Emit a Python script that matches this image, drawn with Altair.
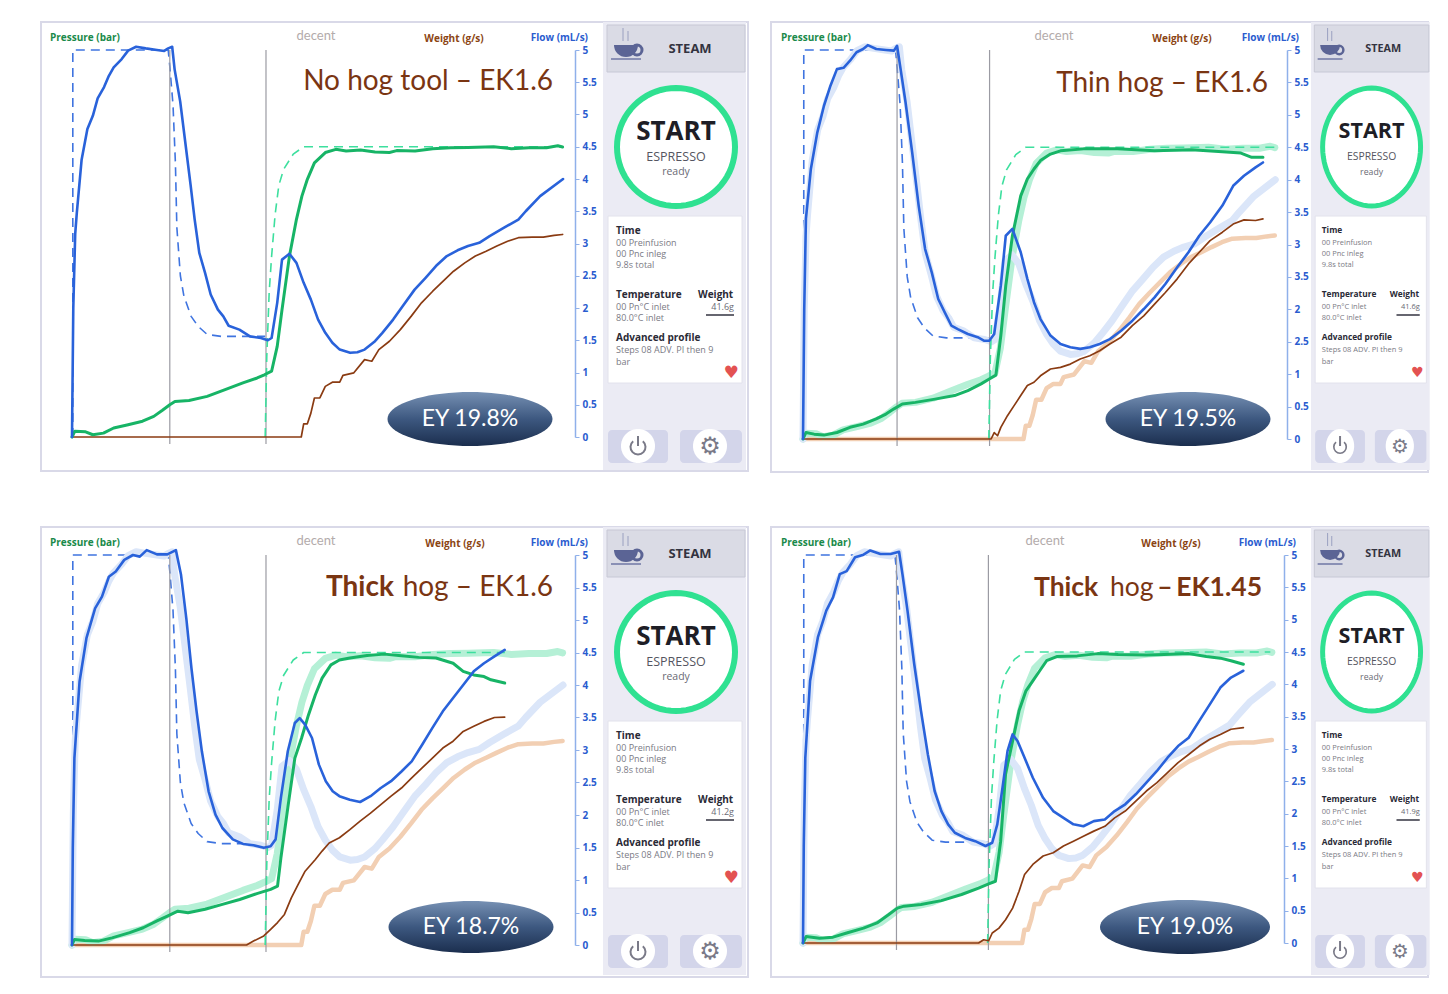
import math
import altair as alt
import pandas as pd

# ------------------------------------------------------------------
# Data.  Every curve is (time in s, value read
# against the left-hand pressure axis; the flow axis is half of it).
# ------------------------------------------------------------------
P1_FLOW = [(0,0),(0.08,4),(0.2,6.3),(0.3,6.95),(0.6,8.6),(0.96,9.55),(1.3,9.96),(1.6,10.5),(2.0,10.85),(2.3,11.2),(2.6,11.46),(3.1,11.72),(3.5,11.98),(4.0,12.1),(4.6,12.05),(5.3,12.0),(5.75,11.97),(6.0,12.05),(6.25,12.1),(6.4,11.4),(6.75,10.4),(7.1,9.0),(7.4,7.8),(7.65,6.75),(7.94,5.71),(8.3,5.09),(8.65,4.42),(9.1,3.95),(9.44,3.74),(9.77,3.45),(10.44,3.33),(11.1,3.12),(11.78,3.07),(12.22,3.0),(12.45,3.07),(12.8,4.16),(13.1,5.5),(13.56,5.68),(14.0,5.4),(14.45,4.78),(14.9,4.26),(15.35,3.64),(15.8,3.23),(16.24,2.92),(16.7,2.71),(17.35,2.61),(17.8,2.63),(18.25,2.71),(18.9,2.97),(19.36,3.23),(20.03,3.64),(20.7,4.11),(21.37,4.57),(22.04,4.93),(22.7,5.3),(23.38,5.61),(24.05,5.79),(24.7,5.92),(25.4,6.02),(26.05,6.23),(26.95,6.49),(27.84,6.74),(28.3,7.0),(29.2,7.47),(30.63,8.0)]
P1_PRESSURE = [(0,0),(0.18,0.18),(0.85,0.16),(1.3,0.07),(1.96,0.12),(2.6,0.28),(3.5,0.38),(4.4,0.49),(5.1,0.64),(5.64,0.83),(6.1,1.0),(6.42,1.1),(7.3,1.13),(8.43,1.26),(9.55,1.47),(10.66,1.68),(11.55,1.83),(12.0,1.93),(12.45,2.04),(12.8,2.81),(13.1,3.95),(13.56,5.6),(14.0,6.75),(14.34,7.47),(14.68,7.99),(15.12,8.5),(15.8,8.82),(16.46,8.92),(17.1,8.87),(18.0,8.9),(18.9,8.84),(19.8,8.82),(20.25,8.88),(21.4,8.87),(22.5,8.94),(23.6,8.97),(24.7,8.98),(26.3,9.0),(27.4,8.94),(28.5,8.97),(29.6,8.97),(30.3,9.03),(30.6,8.99)]
P1_WEIGHT = [(0,0),(14.3,0),(14.45,0.41),(14.68,0.41),(14.9,0.74),(15.12,1.21),(15.46,1.21),(15.8,1.57),(16.24,1.7),(16.7,1.7),(16.9,1.91),(17.58,1.99),(18.25,2.4),(18.7,2.35),(19.14,2.71),(19.8,2.97),(20.48,3.33),(21.15,3.74),(21.8,4.16),(22.5,4.52),(23.15,4.83),(23.8,5.14),(24.5,5.4),(25.16,5.61),(25.83,5.76),(26.5,5.92),(27.17,6.07),(27.84,6.18),(28.7,6.2),(29.4,6.2),(30.07,6.25),(30.6,6.28)]

P2_FLOW = [(0,0),(0.08,4),(0.19,6.8),(0.51,8.33),(0.93,9.46),(1.36,10.28),(1.78,10.9),(2.2,11.41),(2.63,11.45),(3.05,11.67),(3.47,11.93),(3.9,12.03),(4.2,12.15),(4.75,12.03),(5.38,12.0),(5.9,11.98),(6.1,12.13),(6.33,11.41),(6.65,10.39),(7.08,8.84),(7.5,7.2),(7.92,5.86),(8.35,5.14),(8.77,4.32),(9.2,3.9),(9.62,3.5),(10.04,3.39),(10.69,3.24),(11.33,3.14),(11.76,3.03),(12.08,3.03),(12.4,3.24),(12.83,4.73),(13.15,6.27),(13.58,6.48),(14.12,5.76),(14.55,4.94),(14.98,4.22),(15.4,3.7),(16.05,3.19),(16.7,2.93),(17.34,2.83),(17.98,2.78),(18.6,2.83),(19.24,2.93),(19.9,3.08),(20.63,3.34),(21.36,3.65),(22.1,4.01),(22.8,4.37),(23.5,4.78),(24.27,5.3),(25.0,5.76),(25.7,6.27),(26.4,6.68),(27.2,7.2),(27.9,7.81),(28.6,8.12),(29.35,8.38),(29.83,8.53)]
P2_PRESSURE = [(0,0),(0.19,0.2),(0.72,0.15),(1.36,0.12),(2.2,0.2),(3.05,0.36),(3.9,0.46),(4.75,0.62),(5.38,0.77),(5.9,0.93),(6.44,1.08),(7.29,1.13),(8.56,1.23),(9.83,1.34),(10.69,1.49),(11.55,1.7),(12.08,1.85),(12.51,1.97),(12.83,3.19),(13.15,4.73),(13.58,6.27),(14.12,7.5),(14.55,8.02),(14.98,8.33),(15.4,8.59),(16.05,8.79),(16.7,8.89),(18.2,8.95),(20.4,8.95),(22.8,8.89),(25.2,8.92),(27.2,8.86),(28.4,8.82),(29.1,8.69),(29.83,8.69)]
P2_WEIGHT = [(0,0),(12.2,0),(12.4,0.2),(12.62,0.1),(12.83,0.36),(13.26,0.72),(13.69,1.03),(14.12,1.34),(14.55,1.65),(14.98,1.75),(15.4,1.95),(16.05,2.16),(16.7,2.21),(17.34,2.31),(17.98,2.47),(18.6,2.57),(19.24,2.72),(19.9,2.93),(20.63,3.14),(21.36,3.5),(22.1,3.8),(22.8,4.16),(23.5,4.52),(24.27,4.94),(25.0,5.4),(25.7,5.76),(26.4,6.12),(27.2,6.38),(27.9,6.63),(28.6,6.76),(29.35,6.74),(29.83,6.79)]

P3_FLOW = [(0,0),(0.05,3),(0.15,5.75),(0.47,8.1),(0.9,9.44),(1.44,10.36),(1.87,10.72),(2.3,11.33),(2.73,11.49),(3.26,11.85),(3.8,12.0),(4.23,11.95),(4.66,12.15),(5.3,12.02),(5.95,12.02),(6.48,12.15),(6.8,11.39),(7.13,10.05),(7.45,8.52),(7.77,7.19),(8.1,5.96),(8.52,4.73),(8.95,4.01),(9.38,3.6),(10.03,3.25),(10.67,3.11),(11.32,3.07),(11.96,2.99),(12.39,3.04),(12.7,3.25),(13.03,4.53),(13.46,5.96),(13.9,6.83),(14.2,6.98),(14.54,6.78),(14.97,6.37),(15.4,5.55),(15.83,5.04),(16.26,4.73),(16.68,4.58),(17.33,4.47),(17.97,4.4),(18.62,4.58),(19.26,4.83),(19.9,5.04),(20.55,5.34),(21.19,5.65),(21.84,6.16),(22.48,6.68),(23.13,7.19),(23.77,7.6),(24.4,8.0),(25.06,8.42),(25.7,8.67),(26.35,8.88),(26.99,9.08)]
P3_PRESSURE = [(0,0),(0.15,0.17),(0.79,0.14),(1.65,0.12),(2.5,0.22),(3.6,0.38),(4.44,0.53),(5.3,0.74),(5.95,0.89),(6.6,1.04),(7.24,0.99),(8.3,1.1),(9.38,1.25),(10.46,1.4),(11.53,1.58),(12.39,1.71),(12.82,1.81),(13.03,2.68),(13.46,4.22),(13.9,5.75),(14.32,6.37),(14.75,7.08),(15.18,7.7),(15.6,8.21),(16.15,8.62),(16.68,8.77),(17.33,8.83),(18.4,8.91),(19.48,8.95),(20.55,8.9),(21.62,8.85),(22.7,8.83),(23.77,8.67),(24.4,8.42),(25.06,8.31),(25.7,8.26),(26.13,8.16),(26.99,8.06)]
P3_WEIGHT = [(0,0),(10.89,0),(11.32,0.12),(11.96,0.28),(12.39,0.48),(12.82,0.69),(13.25,0.94),(13.68,1.45),(14.1,1.86),(14.54,2.27),(15.18,2.63),(15.6,2.89),(16.04,3.14),(16.68,3.3),(17.33,3.55),(17.97,3.81),(18.62,4.06),(19.26,4.32),(19.9,4.58),(20.55,4.83),(21.19,5.14),(21.84,5.45),(22.48,5.75),(23.13,6.06),(23.77,6.27),(24.4,6.57),(25.06,6.73),(25.7,6.88),(26.35,7.0),(26.99,7.01)]

P4_FLOW = [(0,0),(0.05,3),(0.15,5.73),(0.46,8.1),(0.97,9.45),(1.52,10.28),(1.96,10.69),(2.4,11.41),(2.85,11.5),(3.4,11.93),(3.95,12.01),(4.39,12.14),(5.05,12.03),(5.72,12.03),(6.27,12.1),(6.49,11.41),(6.82,10.28),(7.26,8.62),(7.7,7.18),(8.15,5.83),(8.59,4.7),(9.03,4.08),(9.47,3.67),(9.91,3.41),(10.58,3.25),(11.24,3.15),(11.91,3.0),(12.35,3.1),(12.68,3.67),(13.02,4.8),(13.35,5.94),(13.68,6.45),(14.0,6.25),(14.46,5.73),(15.0,5.11),(15.67,4.49),(16.33,4.08),(17.0,3.87),(17.65,3.67),(18.3,3.61),(18.98,3.77),(19.7,3.82),(20.34,4.08),(21.03,4.29),(21.72,4.6),(22.41,4.96),(23.1,5.32),(23.79,5.73),(24.48,6.09),(25.17,6.35),(25.86,6.87),(26.55,7.38),(27.24,7.9),(27.93,8.21),(28.74,8.42)]
P4_PRESSURE = [(0,0),(0.2,0.2),(1.08,0.15),(1.96,0.18),(2.85,0.31),(3.95,0.46),(4.83,0.62),(5.6,0.88),(6.16,1.08),(6.6,1.14),(7.7,1.19),(9.03,1.31),(10.35,1.5),(11.46,1.7),(12.12,1.83),(12.56,1.91),(12.9,3.15),(13.22,5.22),(13.68,6.25),(14.1,7.18),(14.55,7.8),(15.0,8.11),(15.45,8.42),(15.9,8.73),(16.56,8.86),(17.9,8.88),(19.23,8.95),(20.57,8.92),(22.41,8.91),(23.56,8.92),(25.17,8.95),(26.32,8.86),(27.24,8.81),(27.93,8.73),(28.74,8.62)]
P4_WEIGHT = [(0,0),(11.46,0),(11.79,0.1),(12.12,0.07),(12.35,0.31),(12.79,0.46),(13.22,0.72),(13.68,1.08),(14.1,1.6),(14.46,2.12),(15.0,2.43),(15.67,2.69),(16.33,2.79),(17.0,3.0),(17.65,3.15),(18.3,3.3),(18.98,3.46),(19.7,3.61),(20.34,3.87),(21.03,4.08),(21.72,4.39),(22.41,4.7),(23.1,4.96),(23.79,5.27),(24.48,5.58),(25.17,5.83),(25.86,6.09),(26.55,6.3),(27.24,6.45),(27.93,6.61),(28.74,6.66)]

# profile goals (dashed), identical in the four shots
FLOW_GOAL = [(0.05,0),(0.05,12),(6.0,12),(6.1,11.5),(6.3,10.3),(6.45,8.5),(6.54,6.5),(6.76,5.0),(6.98,4.37),(7.43,3.74),(7.87,3.43),(8.43,3.18),(9.3,3.12),(12.05,3.12)]
PRESSURE_GOAL_RISE = [(12.05,0),(12.15,2.5),(12.3,4.5),(12.45,5.6),(12.67,6.9),(12.9,7.8),(13.2,8.3),(13.8,8.77),(14.45,9.0)]
PRESSURE_GOAL_END = [30.6, 30.6, 27.0, 30.5]
PRESSURE_GOAL_LEVEL = 9.0
STEP_MARKS = [6.1, 12.1]

FLOWS = [P1_FLOW, P2_FLOW, P3_FLOW, P4_FLOW]
PRESSURES = [P1_PRESSURE, P2_PRESSURE, P3_PRESSURE, P4_PRESSURE]
WEIGHTS = [P1_WEIGHT, P2_WEIGHT, P3_WEIGHT, P4_WEIGHT]

TITLE_PARTS = [
    [("No hog tool – EK1.6", "normal")],
    [("Thin hog – EK1.6", "normal")],
    [("Thick", "bold"), ("hog – EK1.6", "normal")],
    [("Thick", "bold"), ("hog", "normal"), ("–", "bold"), ("EK1.45", "bold")],
]
EY_LABELS = ["EY 19.8%", "EY 19.5%", "EY 18.7%", "EY 19.0%"]
SHOT_WEIGHTS = ["41.6g", "41.6g", "41.2g", "41.9g"]
X_TICKS = [0, 5, 10, 15, 20, 25, 30]
PRESSURE_TICKS = list(range(13))
FLOW_TICK_LABELS = [
    ["0", "0.5", "1", "1.5", "2", "2.5", "3", "3.5", "4", "4.5", "5", "5.5", "5"],
    ["0", "0.5", "1", "2.5", "2", "3.5", "3", "3.5", "4", "4.5", "5", "5.5", "5"],
    ["0", "0.5", "1", "1.5", "2", "2.5", "3", "3.5", "4", "4.5", "5", "5.5", "5"],
    ["0", "0.5", "1", "1.5", "2", "2.5", "3", "3.5", "4", "4.5", "5", "5.5", "5"],
]
CARD_LINES = [("Time", "bold", 181), ("00 Preinfusion", "normal", 193), ("00 Pnc inleg", "normal", 204),
              ("9.8s total", "normal", 215), ("Temperature", "bold", 245), ("00 Pn°C inlet", "normal", 257),
              ("80.0°C inlet", "normal", 268), ("Advanced profile", "bold", 288),
              ("Steps 08 ADV. PI then 9", "normal", 300), ("bar", "normal", 312)]

# ------------------------------------------------------------------
# layout (pixels, relative to each plot's top-left corner)
# ------------------------------------------------------------------
W = [497, 478, 497, 475]
H = [387, 389, 390, 388]
SIDE_X0 = [531, 508, 531, 508]
SIDE_S = [1.0, 0.83, 1.0, 0.83]
BORDER = [(-31, 676, -28, 421), (-32, 625, -28, 422), (-31, 676, -28, 422), (-32, 625, -28, 422)]
TITLE_POS = [[(481, "right")], [(465, "right")], [(254, "left"), (481, "right")],
             [(231, "left"), (307, "left"), (362, "center"), (459, "right")]]
TITLE_SIZE = [28, 28, 28, 26.5]
TITLE_Y = [32, 34, 33, 33]
EY_POS = [(398, 369, 165, 54), (385, 369, 165, 54), (399, 372, 165, 52), (382, 372, 170, 54)]
WEIGHT_LBL_X = [382, 379, 383, 368]
FLOW_LBL_X = [516, 496, 516, 493]
DECENT_X = [244, 251, 244, 242]

GREEN = "#17b466"
BLUE = "#2962da"
BROWN = "#8a3b12"
DUMMY = alt.Data(values=[{"k": 1}])
FONT = "Open Sans"


def df(pts):
    return pd.DataFrame(pts, columns=["t", "v"])


def shape_path(rx, ry, n=72):
    m = max(rx, ry)
    pts = [(rx / m * math.cos(2 * math.pi * k / n), ry / m * math.sin(2 * math.pi * k / n)) for k in range(n)]
    return "M" + "L".join(f"{a:.4f},{b:.4f}" for a, b in pts) + "Z", (2 * m) ** 2


def txt(text, x, y, size, color, weight="normal", align="left", font=FONT):
    return alt.Chart(DUMMY).mark_text(text=text, align=align, baseline="middle", fontSize=size,
                                      font=font, fontWeight=weight, color=color).encode(
        x=alt.value(x), y=alt.value(y))


def rect(x1, x2, y1, y2, fill=None, stroke=None, sw=1, radius=0):
    kw = dict(cornerRadius=radius)
    if fill:
        kw["fill"] = fill
        kw["filled"] = True
    else:
        kw["filled"] = False
    if stroke:
        kw["stroke"] = stroke
        kw["strokeWidth"] = sw
    return alt.Chart(DUMMY).mark_rect(**kw).encode(x=alt.value(x1), x2=alt.value(x2),
                                                  y=alt.value(y1), y2=alt.value(y2))


def oval(cx, cy, rx, ry, fill, stroke=None, sw=0):
    path, size = shape_path(rx, ry)
    kw = dict(shape=path, size=size, filled=True, fill=fill, opacity=1, strokeWidth=sw)
    if stroke:
        kw["stroke"] = stroke
    return alt.Chart(DUMMY).mark_point(**kw).encode(x=alt.value(cx), y=alt.value(cy))


def seg(x1, y1, x2, y2, color, sw=1):
    return alt.Chart(DUMMY).mark_rule(color=color, strokeWidth=sw).encode(
        x=alt.value(x1), x2=alt.value(x2), y=alt.value(y1), y2=alt.value(y2))


def arc(cx, cy, r0, r1, t0, t1, color):
    return alt.Chart(DUMMY).mark_arc(innerRadius=r0, outerRadius=r1, theta=t0, theta2=t1,
                                     color=color).encode(x=alt.value(cx), y=alt.value(cy))


def side(i):
    x0, s = SIDE_X0[i], SIDE_S[i]
    X = lambda v: x0 + v * s
    L = [rect(X(0), X(143), -28, 420, fill="#ebebf4")]
    L.append(rect(X(4), X(142), -25, 22, fill="#dadbe5", stroke="#c7c8d5"))
    cup = "#5b6495"
    L.append(arc(X(34), 0, 3.5 * s, 6.5 * s, 0, 2 * math.pi, cup))
    L.append(arc(X(23), -5, 0, 12 * s, math.pi / 2, 3 * math.pi / 2, cup))
    L.append(seg(X(8), 9, X(38), 9, "#8a90b5", 2))
    L.append(seg(X(20), -22, X(20), -9, "#9aa0c0", 1))
    L.append(seg(X(25), -19, X(25), -9, "#9aa0c0", 1))
    L.append(txt("STEAM", X(87), -1, 13 * s, "#333340", "bold", "center"))
    L.append(oval(X(73), 97, 59 * s, 59, "white", "#2fe191", 6 * s))
    L.append(txt("START", X(73), 82, 26 * s, "#1e1e26", "bold", "center"))
    L.append(txt("ESPRESSO", X(73), 107, 12.5 * s, "#555560", "normal", "center"))
    L.append(txt("ready", X(73), 122, 10.5 * s, "#6a6a74", "normal", "center"))
    L.append(rect(X(5), X(139), 166, 333, fill="white", stroke="#e2e2ec"))
    for text, wt, y in CARD_LINES:
        if wt == "bold":
            L.append(txt(text, X(13), y, 10 * s, "#2a2a36", "bold"))
        else:
            L.append(txt(text, X(13), y, 9 * s, "#7a7a84"))
    L.append(txt("Weight", X(95), 245, 10 * s, "#2a2a36", "bold"))
    L.append(txt(SHOT_WEIGHTS[i], X(131), 257, 9 * s, "#6a6a74", "normal", "right"))
    L.append(seg(X(103), 265, X(131), 265, "#666670", 2))
    L.append(txt("♥", X(128), 323, 17 * s, "#e35252", "normal", "center", "DejaVu Sans"))
    L.append(rect(X(5), X(65), 380, 413, fill="#d3d5ea", radius=4))
    L.append(rect(X(77), X(139), 380, 413, fill="#d3d5ea", radius=4))
    L.append(oval(X(35), 396, 17 * s, 17, "white"))
    L.append(oval(X(107), 396, 17 * s, 17, "white"))
    L.append(arc(X(35), 397, 6.5 * s, 8.5 * s, 0.7, 2 * math.pi - 0.7, "#7a7a88"))
    L.append(seg(X(35), 386, X(35), 396, "#7a7a88", 2))
    L.append(txt("⚙", X(107), 397, 24 * s, "#7a7a88", "normal", "center", "DejaVu Sans"))
    return L


def panel(i):
    w, h = W[i], H[i]
    xs = alt.Scale(domain=[0, 31], nice=False, zero=False)
    ys = alt.Scale(domain=[0, 12], nice=False, zero=False)
    xaxis = alt.Axis(values=X_TICKS, labelExpr="datum.value % 10 === 0 ? datum.label : ''",
                     offset=7, domainColor="#c4c4cc", tickColor="#c4c4cc", tickSize=5,
                     labelColor="#333333", labelFontWeight="bold", labelFontSize=9.5, labelFont=FONT,
                     labelPadding=4, grid=True, gridColor="#ebebf1", title=None)
    yaxis = alt.Axis(values=PRESSURE_TICKS, offset=6, domainColor="#80e1b8", domainWidth=1.5,
                     tickColor="#80e1b8", tickSize=4, labelColor="#1a8f4f", labelFontWeight="bold",
                     labelFontSize=10.5, labelFont=FONT, labelPadding=3, grid=True,
                     gridColor="#ebebf1", title=None)
    labels = "[" + ",".join(f"'{s}'" for s in FLOW_TICK_LABELS[i]) + "][datum.value]"
    raxis = alt.Axis(orient="right", values=PRESSURE_TICKS, labelExpr=labels, offset=6,
                     domainColor="#8fb0ea", domainWidth=1.5, tickColor="#8fb0ea", tickSize=4,
                     labelColor="#2a5ccf", labelFontWeight="bold", labelFontSize=10,
                     labelFont=FONT, labelPadding=3, grid=False, title=None)

    def line(pts, color, sw, dash=None, axes=False, opacity=1.0):
        kw = dict(color=color, strokeWidth=sw, opacity=opacity, strokeJoin="round", strokeCap="round")
        if dash:
            kw["strokeDash"] = dash
            kw["strokeCap"] = "butt"
        return alt.Chart(df(pts)).mark_line(**kw).encode(
            x=alt.X("t:Q", scale=xs, axis=xaxis if axes else None),
            y=alt.Y("v:Q", scale=ys, axis=yaxis if axes else None),
            order="t:Q")

    goal_p = PRESSURE_GOAL_RISE + [(PRESSURE_GOAL_END[i], PRESSURE_GOAL_LEVEL)]
    layers = [line(FLOW_GOAL, "#3f74e0", 1.6, [9, 6], axes=True)]
    if i > 0:
        layers += [line(P1_WEIGHT, "#f2cfb3", 4.5),
                   line(P1_PRESSURE, "#b5f0d6", 7),
                   line(P1_FLOW, "#dbe6f9", 7)]
    layers.append(alt.Chart(pd.DataFrame({"t": STEP_MARKS})).mark_rule(color="#9b9ba3", strokeWidth=1.2)
                  .encode(x=alt.X("t:Q", scale=xs, axis=None), y=alt.value(0), y2=alt.value(h + 7)))
    layers += [line(goal_p, "#3ddf9e", 1.6, [9, 6]),
               line(WEIGHTS[i], BROWN, 1.7),
               line(PRESSURES[i], GREEN, 3),
               line(FLOWS[i], BLUE, 2.6)]
    data = alt.layer(*layers)
    right = alt.Chart(pd.DataFrame({"v": [0, 12]})).mark_point(opacity=0).encode(
        x=alt.value(0), y=alt.Y("v:Q", scale=ys, axis=raxis))

    bx1, bx2, by1, by2 = BORDER[i]
    decor_back = [rect(bx1, bx2, by1, by2, stroke="#d9d9e8", sw=2)]
    decor = []
    decor.append(txt("Pressure (bar)", -22, -12, 10, "#1a8a4a", "bold"))
    decor.append(txt("Weight (g/s)", WEIGHT_LBL_X[i], -11, 10, "#8b4513", "bold", "center"))
    decor.append(txt("Flow (mL/s)", FLOW_LBL_X[i], -12, 10, "#2a5ccf", "bold", "right"))
    decor.append(txt("decent", DECENT_X[i], -14, 13, "#b3abab", "normal", "center", "Lato"))
    for (text, wt), (px, al) in zip(TITLE_PARTS[i], TITLE_POS[i]):
        decor.append(txt(text, px, TITLE_Y[i], TITLE_SIZE[i], "#7a3512", wt, al, "Lato"))
    cx, cy, ew, eh = EY_POS[i]
    grad = alt.LinearGradient(gradient="linear", x1=0, x2=0, y1=0, y2=1,
                              stops=[alt.GradientStop(color="#7690b3", offset=0),
                                     alt.GradientStop(color="#3d5880", offset=0.5),
                                     alt.GradientStop(color="#1b2e4e", offset=1)])
    decor.append(oval(cx, cy, ew / 2, eh / 2, grad))
    decor.append(txt(EY_LABELS[i], cx, cy, 23, "white", "normal", "center", "Lato"))
    decor += side(i)

    return alt.layer(*decor_back, data, right, *decor).resolve_scale(y="independent").properties(
        width=w, height=h)


chart = alt.concat(*[panel(i) for i in range(4)], columns=2,
                   spacing=alt.RowColnumber(row=116, column=234), bounds="flush").properties(
    padding={"left": 32, "top": 13, "right": 0, "bottom": 0}
).configure_view(stroke=None)

chart.save("out.html", embed_options={"renderer": "svg", "actions": False})
